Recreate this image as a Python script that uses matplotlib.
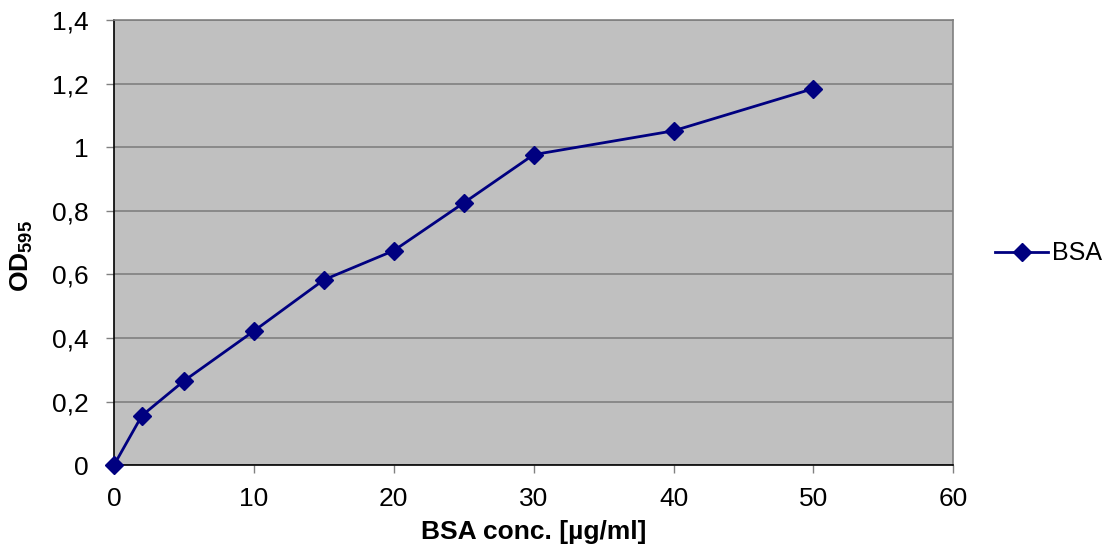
import matplotlib
matplotlib.use('Agg')
import matplotlib.pyplot as plt

plt.rcParams['font.family'] = ['Liberation Sans', 'DejaVu Sans']
plt.rcParams['mathtext.fontset'] = 'custom'
plt.rcParams['mathtext.bf'] = 'Liberation Sans:bold'
plt.rcParams['mathtext.rm'] = 'Liberation Sans'

# BSA standard curve (Bradford assay)
conc = [0, 2, 5, 10, 15, 20, 25, 30, 40, 50]
od595 = [0, 0.156, 0.265, 0.422, 0.583, 0.675, 0.825, 0.977, 1.052, 1.185]
xticks = [0, 10, 20, 30, 40, 50, 60]
yticks = [0, 0.2, 0.4, 0.6, 0.8, 1.0, 1.2, 1.4]
ytick_labels = ['0', '0,2', '0,4', '0,6', '0,8', '1', '1,2', '1,4']

fig = plt.figure(figsize=(11.06, 5.46), dpi=100)
ax = fig.add_axes([0.103, 0.148, 0.759, 0.815])
ax.set_facecolor('#c0c0c0')

ax.plot(conc, od595, color='#000080', lw=2, marker='D', ms=9,
        label='BSA', clip_on=False, zorder=3)

ax.set_xlim(0, 60)
ax.set_ylim(0, 1.4)
ax.set_xticks(xticks)
ax.set_yticks(yticks)
ax.set_yticklabels(ytick_labels)
ax.tick_params(axis='both', labelsize=19, length=6, width=1, color='#808080')
ax.tick_params(axis='y', pad=12)
ax.tick_params(axis='x', pad=10)

ax.grid(axis='y', color='#808080', lw=1.2)
ax.set_axisbelow(True)

for side in ['top', 'right']:
    ax.spines[side].set_color('#808080')
    ax.spines[side].set_linewidth(1.2)
for side in ['left', 'bottom']:
    ax.spines[side].set_color('black')
    ax.spines[side].set_linewidth(1.2)

ax.set_xlabel('BSA conc. [µg/ml]', fontsize=19, fontweight='bold', labelpad=6)
ax.set_ylabel(r'$\mathbf{OD}_{\mathbf{595}}$', fontsize=19)
ax.yaxis.set_label_coords(-0.094, 0.47)

ax.legend(loc='center left', bbox_to_anchor=(1.05, 0.476), frameon=False,
          fontsize=18, handlelength=2.1, handletextpad=0.16,
          borderpad=0, borderaxespad=0)

fig.savefig('out.png', dpi=100)
